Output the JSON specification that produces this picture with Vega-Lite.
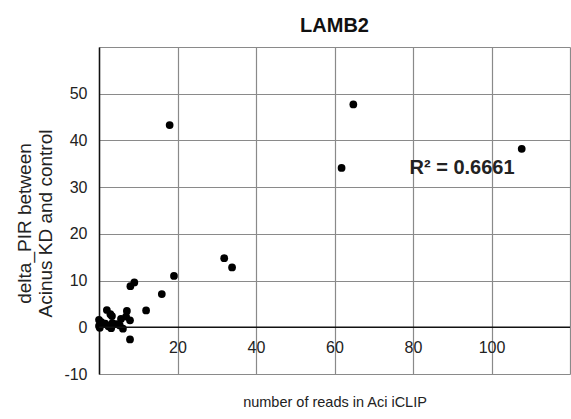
{
  "$schema": "https://vega.github.io/schema/vega-lite/v6.json",
  "width": 471,
  "height": 327,
  "autosize": "none",
  "padding": {"left": 99, "top": 47, "right": 1, "bottom": 45},
  "background": "white",
  "config": {
    "view": {"stroke": null},
    "font": "Liberation Sans",
    "axis": {"labelFont": "Liberation Sans", "titleFont": "Liberation Sans", "labelColor": "#222", "titleColor": "#222", "titleFontWeight": "normal"}
  },
  "title": {"text": "LAMB2", "font": "Liberation Sans", "fontSize": 20, "fontWeight": "bold", "color": "#111", "offset": 11},
  "datasets": {
    "points": [
      {"reads": 18.0, "dpir": 43.3},
      {"reads": 64.8, "dpir": 47.7},
      {"reads": 61.8, "dpir": 34.1},
      {"reads": 107.7, "dpir": 38.2},
      {"reads": 31.9, "dpir": 14.8},
      {"reads": 33.9, "dpir": 12.8},
      {"reads": 19.1, "dpir": 11.0},
      {"reads": 9.0, "dpir": 9.6},
      {"reads": 8.0, "dpir": 8.8},
      {"reads": 16.0, "dpir": 7.1},
      {"reads": 12.0, "dpir": 3.6},
      {"reads": 7.9, "dpir": -2.6},
      {"reads": 7.1, "dpir": 3.5},
      {"reads": 7.9, "dpir": 1.5},
      {"reads": 6.9, "dpir": 2.3},
      {"reads": 2.0, "dpir": 3.7},
      {"reads": 2.9, "dpir": 2.8},
      {"reads": 3.3, "dpir": 2.4},
      {"reads": 0.0, "dpir": 1.6},
      {"reads": 0.0, "dpir": 0.3},
      {"reads": 0.6, "dpir": 1.1},
      {"reads": 1.6, "dpir": 0.8},
      {"reads": 3.1, "dpir": -0.2},
      {"reads": 3.4, "dpir": 0.9},
      {"reads": 4.4, "dpir": 0.7},
      {"reads": 5.6, "dpir": 1.8},
      {"reads": 6.1, "dpir": -0.3},
      {"reads": 5.3, "dpir": 0.4},
      {"reads": 0.2, "dpir": -0.1},
      {"reads": 2.4, "dpir": 0.2}
    ],
    "annotation": [{"label": "R² = 0.6661"}]
  },
  "layer": [
    {
      "data": {"name": "points"},
      "mark": {"type": "circle", "size": 60, "color": "#000", "opacity": 1},
      "encoding": {
        "x": {
          "field": "reads", "type": "quantitative",
          "scale": {"domain": [0, 120], "nice": false},
          "axis": {
            "values": [0, 20, 40, 60, 80, 100, 120],
            "labelExpr": "datum.value == 0 || datum.value == 120 ? '' : datum.label",
            "grid": true, "gridColor": "#8a8a8a", "gridWidth": 1.2,
            "domain": false, "ticks": false,
            "labelFontSize": 16, "labelPadding": -35,
            "title": "number of reads in Aci iCLIP", "titleFontSize": 14.5, "titlePadding": 21
          }
        },
        "y": {
          "field": "dpir", "type": "quantitative",
          "scale": {"domain": [-10, 60], "nice": false},
          "axis": {
            "values": [-10, 0, 10, 20, 30, 40, 50, 60],
            "labelExpr": "datum.value == 60 ? '' : replace(datum.label, '−', '-')",
            "grid": true, "gridColor": "#8a8a8a", "gridWidth": 1.2,
            "domain": true, "domainColor": "#111", "domainWidth": 1.5,
            "ticks": false,
            "labelFontSize": 16, "labelPadding": 12,
            "title": ["delta_PIR between", "Acinus KD and control"], "titleFontSize": 19, "titlePadding": 8, "titleY": 176
          }
        }
      }
    },
    {
      "data": {"name": "annotation"},
      "mark": {"type": "rule", "color": "#111", "strokeWidth": 1.5},
      "encoding": {"y": {"datum": 0}, "x": {"datum": 0}, "x2": {"datum": 120}}
    },
    {
      "data": {"name": "annotation"},
      "mark": {"type": "text", "font": "Liberation Sans", "fontSize": 20, "fontWeight": "bold", "color": "#222", "align": "center", "baseline": "middle"},
      "encoding": {"x": {"datum": 92.5}, "y": {"datum": 34}, "text": {"field": "label"}}
    }
  ]
}
